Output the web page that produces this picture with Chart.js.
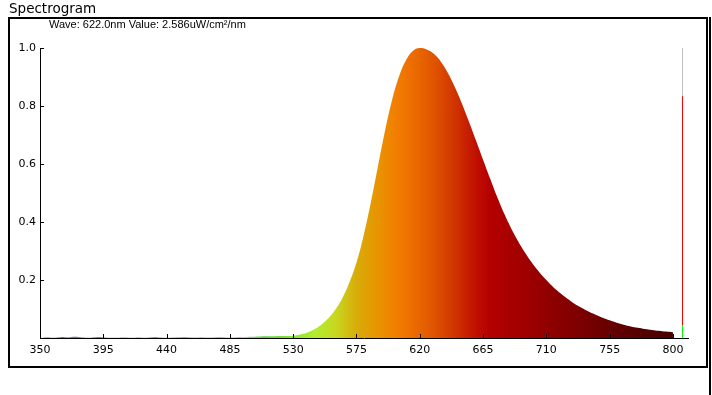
<!DOCTYPE html>
<html>
<head>
<meta charset="utf-8">
<script src="https://cdn.jsdelivr.net/npm/chart.js@4.4.1/dist/chart.umd.min.js"></script>
<style>
  html, body { margin: 0; padding: 0; background: #fff; }
  #wrap { position: relative; width: 712px; height: 395px; overflow: hidden; }
  #c { position: absolute; left: 0; top: 0; }
  #frame { position: absolute; left: 8px; top: 17px; width: 700px; height: 351px; box-sizing: border-box; border: 2px solid #000; }
  #edge { position: absolute; left: 709px; top: 17px; width: 2px; height: 378px; background: #000; }
  #title { position: absolute; left: 9px; top: 0px; font-family: "DejaVu Sans", Verdana, sans-serif; font-size: 13.5px; line-height: 17px; color: #000; }
  #sub { position: absolute; left: 49px; top: 17px; font-family: "Liberation Sans", Arial, sans-serif; font-size: 11px; line-height: 14px; color: #000; }
</style>
</head>
<body>
<div id="wrap">
  <canvas id="c" width="712" height="395"></canvas>
  <div id="frame"></div>
  <div id="edge"></div>
  <div id="title">Spectrogram</div>
  <div id="sub">Wave: 622.0nm Value: 2.586uW/cm²/nm</div>
</div>
<script>
// ---- data ----
const wavelengths = [
  350,355,360,365,370,375,380,385,390,395,
  400,405,410,415,420,425,430,435,440,445,
  450,455,460,465,470,475,480,485,490,495,
  500,505,510,515,520,525,530,535,540,545,
  550,555,560,565,570,575,580,585,590,595,
  600,605,610,615,620,625,630,635,640,645,
  650,655,660,665,670,675,680,685,690,695,
  700,705,710,715,720,725,730,735,740,745,
  750,755,760,765,770,775,780,785,790,795,
  800
];
const intensity = [
  0.000,0.002,0.001,0.003,0.002,0.004,0.002,0.001,0.003,0.002,
  0.001,0.001,0.002,0.001,0.002,0.001,0.003,0.002,0.001,0.002,
  0.003,0.003,0.002,0.003,0.002,0.003,0.003,0.002,0.003,0.003,
  0.004,0.005,0.006,0.006,0.007,0.007,0.008,0.012,0.019,0.030,
  0.046,0.068,0.098,0.138,0.192,0.260,0.352,0.462,0.585,0.708,
  0.815,0.898,0.956,0.990,1.000,0.995,0.980,0.953,0.914,0.865,
  0.808,0.746,0.681,0.615,0.550,0.487,0.429,0.378,0.333,0.293,
  0.258,0.227,0.200,0.175,0.154,0.135,0.118,0.104,0.091,0.080,
  0.070,0.061,0.053,0.046,0.040,0.035,0.031,0.028,0.025,0.022,
  0.020
];
const xTickLabels = [350,395,440,485,530,575,620,665,710,755,800];
const yTickLabels = [0.2,0.4,0.6,0.8,1.0];
const xMin = 350, xMax = 810.7;
// cursor marker at the right edge
const markerWave = 806.8;
const markerGray = [0.834, 1.0];
const markerRed = [0.045, 0.834];
const markerGreen = [0.0, 0.045];
// spectral colour stops (wavelength, colour)
const colorStops = [
  [350,'#6068b0'],[420,'#8088d8'],[470,'#a0b0d8'],[495,'#a0c8b0'],
  [510,'#60d040'],[530,'#88e830'],[545,'#b0ec30'],[560,'#c8d820'],
  [575,'#d8ac08'],[590,'#e89400'],[602,'#f28000'],[615,'#ec6c00'],
  [630,'#e05400'],[645,'#d03400'],[660,'#c01000'],[670,'#b40000'],
  [695,'#a00000'],[730,'#800000'],[765,'#5e0000'],[800,'#480000']
];

const mainData = wavelengths.map((w, i) => ({ x: w, y: intensity[i] }));

function spectrumFill(context) {
  const chart = context.chart;
  const area = chart.chartArea;
  if (!area) return '#e06000';
  const xs = chart.scales.x;
  const p0 = xs.getPixelForValue(colorStops[0][0]);
  const p1 = xs.getPixelForValue(colorStops[colorStops.length - 1][0]);
  const g = chart.ctx.createLinearGradient(p0, 0, p1, 0);
  colorStops.forEach(([w, c]) => {
    g.addColorStop((xs.getPixelForValue(w) - p0) / (p1 - p0), c);
  });
  return g;
}

const innerTicks = {
  id: 'innerTicks',
  afterDraw(chart) {
    const { ctx, chartArea, scales } = chart;
    ctx.save();
    ctx.strokeStyle = '#000';
    ctx.lineWidth = 1;
    ctx.beginPath();
    scales.x.ticks.forEach(t => {
      const px = Math.round(scales.x.getPixelForValue(t.value)) + 0.5;
      ctx.moveTo(px, chartArea.bottom);
      ctx.lineTo(px, chartArea.bottom - 4);
    });
    scales.y.ticks.forEach(t => {
      const py = Math.round(scales.y.getPixelForValue(t.value)) + 0.5;
      ctx.moveTo(chartArea.left, py);
      ctx.lineTo(chartArea.left + 4, py);
    });
    ctx.stroke();
    ctx.restore();
  }
};

const seg = (vals, color) => ({
  data: vals.map(v => ({ x: markerWave, y: v })),
  borderColor: color,
  borderWidth: 1,
  pointRadius: 0,
  fill: false,
  tension: 0
});

new Chart(document.getElementById('c'), {
  type: 'line',
  data: {
    datasets: [
      {
        data: mainData,
        borderWidth: 0,
        borderColor: 'rgba(0,0,0,0)',
        backgroundColor: spectrumFill,
        fill: 'origin',
        pointRadius: 0,
        tension: 0.4
      },
      seg(markerGray, '#c0c0c0'),
      seg(markerRed, '#ff0000'),
      seg(markerGreen, '#00ff00')
    ]
  },
  options: {
    responsive: false,
    animation: false,
    devicePixelRatio: 1,
    layout: { padding: { left: 8, right: 24, top: 48, bottom: 0 } },
    plugins: { legend: { display: false }, tooltip: { enabled: false }, title: { display: false } },
    scales: {
      x: {
        type: 'linear',
        min: xMin,
        max: xMax,
        afterBuildTicks: s => { s.ticks = xTickLabels.map(v => ({ value: v })); },
        afterFit: s => { s.height = 57; },
        grid: { display: false, drawTicks: false },
        border: { display: true, color: '#000', width: 1 },
        ticks: {
          autoSkip: false,
          maxRotation: 0,
          padding: 6,
          color: '#000',
          font: { family: 'DejaVu Sans', size: 11 },
          callback: v => String(v)
        }
      },
      y: {
        type: 'linear',
        min: 0,
        max: 1.0,
        afterBuildTicks: s => { s.ticks = yTickLabels.map(v => ({ value: v })); },
        afterFit: s => { s.width = 32; },
        grid: { display: false, drawTicks: false },
        border: { display: true, color: '#000', width: 1 },
        ticks: {
          padding: 4,
          color: '#000',
          font: { family: 'DejaVu Sans', size: 11 },
          callback: v => Number(v).toFixed(1)
        }
      }
    }
  },
  plugins: [innerTicks]
});
</script>
</body>
</html>
